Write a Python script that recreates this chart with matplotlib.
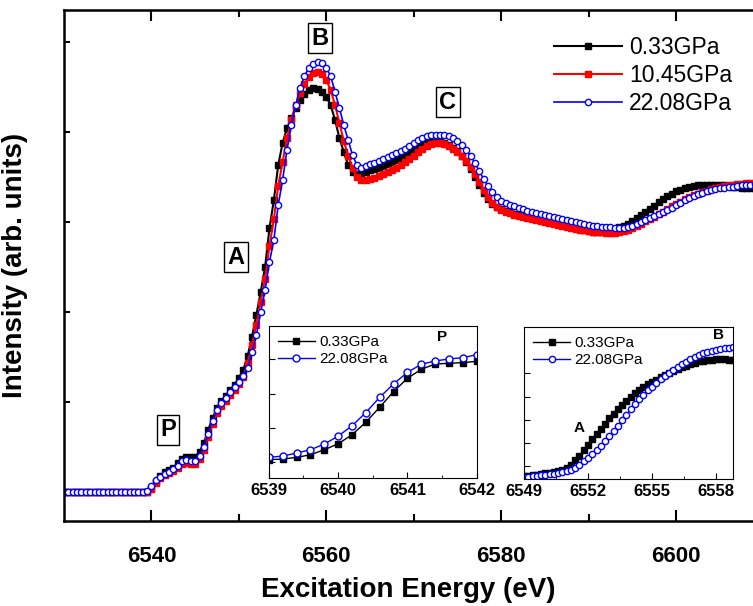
import numpy as np
import matplotlib
matplotlib.use('Agg')
import matplotlib.pyplot as plt

plt.rcParams['font.family'] = ['Liberation Sans', 'DejaVu Sans']

# energy grid of the main spectra (eV)
energy = np.arange(6530, 6609.01, 0.5)

# normalized intensity, 0.33 GPa
i_033 = [0.0, 0.0, 0.0, 0.0, 0.0, 0.0, 0.0, 0.0, 0.0, 0.0,
         0.0, 0.0, 0.0, 0.0, 0.0, 0.0, 0.0, 0.0, 0.0, 0.0,
         0.013, 0.033, 0.053, 0.067, 0.073, 0.08, 0.097, 0.11, 0.117, 0.117,
         0.117, 0.133, 0.163, 0.207, 0.247, 0.28, 0.303, 0.32, 0.34, 0.357,
         0.38, 0.407, 0.453, 0.517, 0.59, 0.667, 0.75, 0.88, 0.973, 1.09,
         1.163, 1.213, 1.247, 1.28, 1.307, 1.327, 1.34, 1.347, 1.343, 1.333,
         1.317, 1.29, 1.24, 1.18, 1.133, 1.09, 1.067, 1.06, 1.06, 1.067,
         1.073, 1.077, 1.08, 1.087, 1.093, 1.1, 1.107, 1.113, 1.12, 1.13,
         1.14, 1.15, 1.157, 1.163, 1.167, 1.167, 1.167, 1.163, 1.157, 1.147,
         1.137, 1.12, 1.1, 1.077, 1.05, 1.023, 0.997, 0.977, 0.96, 0.95,
         0.943,
         0.938, 0.933, 0.928, 0.923, 0.92, 0.917, 0.915, 0.913, 0.91, 0.907,
         0.903, 0.9, 0.897, 0.893, 0.89, 0.887, 0.883, 0.88, 0.875, 0.87,
         0.868, 0.867, 0.868, 0.87, 0.873, 0.877, 0.882, 0.887, 0.895, 0.903,
         0.913, 0.923, 0.933, 0.943, 0.955, 0.967, 0.977, 0.987, 0.995, 1.003,
         1.008, 1.013, 1.017, 1.02, 1.022, 1.023, 1.023, 1.023, 1.023, 1.023,
         1.022, 1.02, 1.018, 1.017, 1.015, 1.013, 1.013, 1.013]

# 10.45 GPa
i_1045 = [0.0, 0.0, 0.0, 0.0, 0.0, 0.0, 0.0, 0.0, 0.0, 0.0,
          0.0, 0.0, 0.0, 0.0, 0.0, 0.0, 0.0, 0.0, 0.0, 0.0,
          0.01, 0.03, 0.047, 0.057, 0.063, 0.07, 0.08, 0.093, 0.097, 0.093,
          0.093, 0.11, 0.14, 0.183, 0.227, 0.263, 0.287, 0.303, 0.323, 0.34,
          0.36, 0.383, 0.43, 0.49, 0.557, 0.633, 0.71, 0.82, 0.91, 1.02,
          1.1, 1.18, 1.24, 1.29, 1.33, 1.36, 1.383, 1.397, 1.4, 1.393,
          1.373, 1.34, 1.29, 1.23, 1.17, 1.12, 1.08, 1.05, 1.04, 1.04,
          1.043, 1.047, 1.053, 1.06, 1.067, 1.073, 1.08, 1.09, 1.1, 1.11,
          1.12, 1.133, 1.143, 1.153, 1.16, 1.163, 1.163, 1.16, 1.153, 1.143,
          1.133, 1.12, 1.103, 1.083, 1.06, 1.033, 1.007, 0.983, 0.963, 0.95,
          0.94,
          0.935, 0.93, 0.925, 0.92, 0.917, 0.913, 0.91, 0.907, 0.903, 0.9,
          0.897, 0.893, 0.89, 0.887, 0.883, 0.88, 0.877, 0.875, 0.872, 0.87,
          0.868, 0.867, 0.866, 0.865, 0.865, 0.865, 0.867, 0.87, 0.875, 0.88,
          0.887, 0.893, 0.902, 0.91, 0.918, 0.927, 0.935, 0.943, 0.952, 0.96,
          0.968, 0.977, 0.983, 0.99, 0.995, 1.0, 1.005, 1.01, 1.013, 1.017,
          1.02, 1.023, 1.025, 1.027, 1.028, 1.03, 1.03, 1.03]

# 22.08 GPa
i_2208 = [0.0, 0.0, 0.0, 0.0, 0.0, 0.0, 0.0, 0.0, 0.0, 0.0,
          0.0, 0.0, 0.0, 0.0, 0.0, 0.0, 0.0, 0.0, 0.0, 0.003,
          0.02, 0.04, 0.05, 0.06, 0.067, 0.077, 0.087, 0.103, 0.107, 0.103,
          0.103, 0.12, 0.15, 0.193, 0.237, 0.273, 0.297, 0.313, 0.333, 0.35,
          0.367, 0.387, 0.413, 0.467, 0.523, 0.6, 0.673, 0.767, 0.84, 0.957,
          1.04, 1.14, 1.223, 1.29, 1.347, 1.387, 1.413, 1.427, 1.433, 1.43,
          1.413, 1.387, 1.333, 1.28, 1.223, 1.173, 1.123, 1.09, 1.08, 1.087,
          1.093, 1.097, 1.103, 1.11, 1.117, 1.123, 1.13, 1.137, 1.143, 1.153,
          1.163, 1.173, 1.18, 1.187, 1.19, 1.19, 1.19, 1.19, 1.187, 1.18,
          1.17, 1.157, 1.14, 1.12, 1.097, 1.07, 1.043, 1.02, 1.0, 0.983,
          0.97,
          0.963, 0.957, 0.952, 0.947, 0.942, 0.937, 0.933, 0.93, 0.927, 0.923,
          0.92, 0.917, 0.913, 0.91, 0.907, 0.903, 0.9, 0.897, 0.893, 0.89,
          0.888, 0.887, 0.885, 0.883, 0.882, 0.88, 0.88, 0.88, 0.883, 0.887,
          0.893, 0.9, 0.907, 0.913, 0.92, 0.927, 0.933, 0.94, 0.948, 0.957,
          0.965, 0.973, 0.98, 0.987, 0.992, 0.997, 1.002, 1.007, 1.01, 1.013,
          1.015, 1.017, 1.018, 1.02, 1.022, 1.023, 1.025, 1.027]

# inset P (pre-edge)
e_p = np.arange(6539.0, 6542.01, 0.2)
p_033 = [0.077, 0.097, 0.145, 0.223, 0.368, 0.542, 0.803, 1.171,
         1.607, 2.062, 2.449, 2.711, 2.865, 2.885, 2.904, 2.943]
p_2208 = [0.145, 0.184, 0.271, 0.368, 0.532, 0.765, 1.065, 1.452,
          1.897, 2.285, 2.623, 2.856, 2.953, 3.011, 3.049, 3.136]

# inset A (rising edge)
e_a = np.arange(6549.0, 6558.81, 0.2)
a_033 = [-0.43, -0.41, -0.39, -0.36, -0.33, -0.29, -0.27, -0.24, -0.2, -0.14,
         -0.07, 0.06, 0.26, 0.47, 0.70, 0.93, 1.16, 1.39, 1.61, 1.84,
         2.07, 2.27, 2.47, 2.66, 2.83, 3.0, 3.15, 3.29, 3.42, 3.53,
         3.64, 3.74, 3.84, 3.93, 4.02, 4.11, 4.19, 4.27, 4.34, 4.41,
         4.47, 4.52, 4.55, 4.58, 4.6, 4.61, 4.61, 4.61, 4.6, 4.59]
a_2208 = [-0.46, -0.44, -0.42, -0.40, -0.38, -0.36, -0.34, -0.32, -0.29, -0.26,
          -0.21, -0.15, -0.06, 0.08, 0.22, 0.36, 0.52, 0.70, 0.89, 1.09,
          1.29, 1.52, 1.74, 1.98, 2.22, 2.46, 2.68, 2.89, 3.09, 3.27,
          3.43, 3.59, 3.75, 3.9, 4.04, 4.17, 4.29, 4.4, 4.51, 4.61,
          4.71, 4.79, 4.86, 4.92, 4.98, 5.03, 5.06, 5.09, 5.11, 5.12]

labels = ['0.33GPa', '10.45GPa', '22.08GPa']

fig = plt.figure(figsize=(7.53, 6.06), dpi=100)

# main panel
ax = fig.add_axes([0.085, 0.1403, 0.915, 0.8432])
ax.plot(energy, i_033, '-', color='black', lw=1.5, marker='s', ms=4.5, mfc='black', mec='black', label=labels[0])
ax.plot(energy, i_1045, '-', color='red', lw=1.5, marker='s', ms=4.5, mfc='red', mec='red', label=labels[1])
ax.plot(energy, i_2208, '-', color='blue', lw=1.2, marker='o', ms=4.5, mfc='white', mec='blue', mew=1, label=labels[2])

ax.set_xlim(6530, 6608.8)
ax.set_ylim(-0.097, 1.607)
ax.set_xticks([6540, 6560, 6580, 6600])
ax.set_xticks([6550, 6570, 6590], minor=True)
ax.set_yticks([0.0, 0.3, 0.6, 0.9, 1.2, 1.5])
ax.set_yticklabels([])
ax.tick_params(which='both', direction='in', top=True, width=1.5)
ax.tick_params(axis='x', which='major', length=8, labelsize=16, pad=18)
ax.tick_params(axis='x', which='minor', length=5)
ax.tick_params(axis='y', length=4, pad=2)
for lab in ax.get_xticklabels():
    lab.set_fontweight('bold')
for s in ['left', 'bottom', 'top']:
    ax.spines[s].set_linewidth(1.8)
ax.spines['right'].set_visible(False)

ax.set_xlabel('Excitation Energy (eV)', fontsize=20, fontweight='bold', labelpad=7)
ax.set_ylabel('Intensity (arb. units)', fontsize=20, fontweight='bold')
ax.yaxis.set_label_coords(-0.052, 0.5)

ax.legend(loc='upper right', bbox_to_anchor=(1.0, 0.99), frameon=False, fontsize=16.5,
          handlelength=3.0, handletextpad=0.3, labelspacing=0.22, numpoints=1)

box = dict(boxstyle='square,pad=0.15', fc='white', ec='black', lw=1)
for txt, x, y in [('B', 6559.3, 1.513), ('C', 6573.9, 1.30), ('A', 6549.7, 0.783), ('P', 6541.9, 0.207)]:
    ax.text(x, y, txt, fontsize=17, fontweight='bold', ha='center', va='center', bbox=box)

# inset 1: pre-edge P
ax1 = fig.add_axes([0.357, 0.2112, 0.2762, 0.2508])
ax1.plot(e_p, p_033, '-', color='black', lw=1, marker='s', ms=5, label=labels[0])
ax1.plot(e_p, p_2208, '-', color='blue', lw=1, marker='o', ms=5, mfc='white', mec='blue', label=labels[2])
ax1.set_xlim(6539, 6542)
ax1.set_ylim(-0.455, 3.97)
ax1.set_xticks([6539, 6540, 6541, 6542])
ax1.set_xticks([6539.5, 6540.5, 6541.5], minor=True)
ax1.set_yticks([0, 1, 2, 3])
ax1.set_yticklabels([])
ax1.tick_params(which='both', direction='in', labelsize=12)
ax1.tick_params(which='major', length=4)
ax1.tick_params(which='minor', length=2)
for lab in ax1.get_xticklabels():
    lab.set_fontweight('bold')
ax1.text(6541.5, 3.66, 'P', fontsize=11, fontweight='bold', ha='center', va='center')
ax1.legend(loc='upper left', frameon=False, fontsize=11, handlelength=2.4, handletextpad=0.3,
           labelspacing=0.2, borderaxespad=0.2, numpoints=1)

# inset 2: rising edge A
ax2 = fig.add_axes([0.6959, 0.2096, 0.2776, 0.2508])
ax2.plot(e_a, a_033, '-', color='black', lw=1, marker='s', ms=5, label=labels[0])
ax2.plot(e_a, a_2208, '-', color='blue', lw=1, marker='o', ms=4.5, mfc='white', mec='blue', label=labels[2])
ax2.set_xlim(6549, 6558.8)
ax2.set_ylim(-0.54, 6.0)
ax2.set_xticks([6549, 6552, 6555, 6558])
ax2.set_xticks([6550.5, 6553.5, 6556.5], minor=True)
ax2.set_yticks([0, 1, 2, 3, 4])
ax2.set_yticklabels([])
ax2.tick_params(which='both', direction='in', labelsize=12)
ax2.tick_params(which='major', length=4)
ax2.tick_params(which='minor', length=2)
for lab in ax2.get_xticklabels():
    lab.set_fontweight('bold')
ax2.text(6551.6, 1.64, 'A', fontsize=11, fontweight='bold', ha='center', va='center')
ax2.text(6558.1, 5.64, 'B', fontsize=11, fontweight='bold', ha='center', va='center')
ax2.legend(loc='upper left', frameon=False, fontsize=11, handlelength=2.4, handletextpad=0.3,
           labelspacing=0.2, borderaxespad=0.2, numpoints=1)

fig.savefig('out.png', dpi=100)
